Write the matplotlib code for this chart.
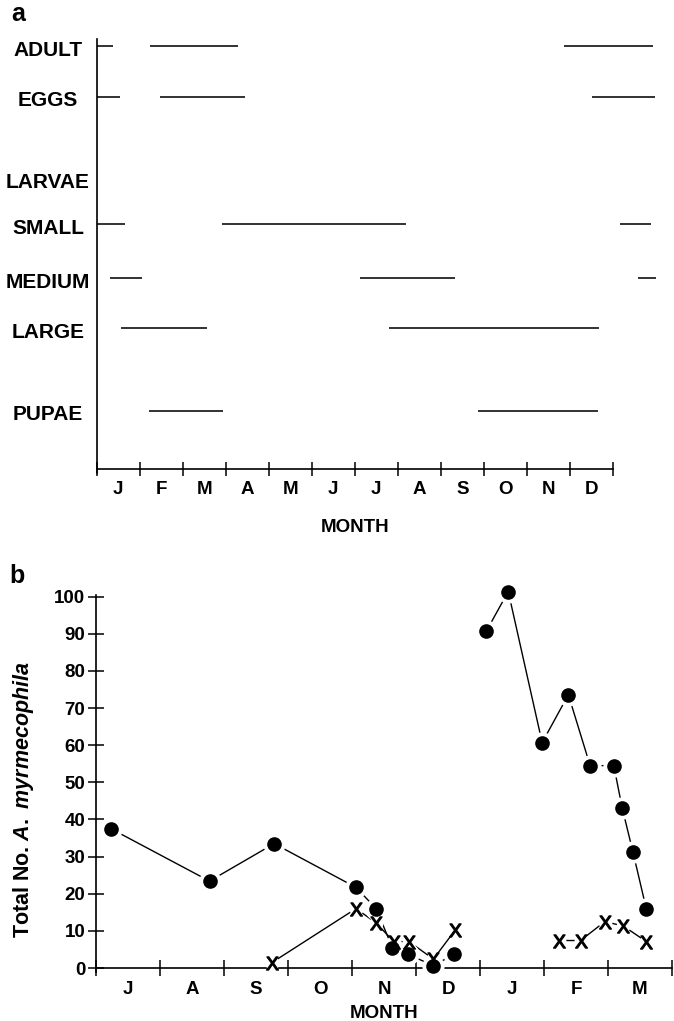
import matplotlib
matplotlib.use('Agg')
import matplotlib.pyplot as plt
import matplotlib.transforms as mtransforms

plt.rcParams['font.family'] = ['Liberation Sans', 'DejaVu Sans']
plt.rcParams['font.weight'] = 'bold'
plt.rcParams['mathtext.fontset'] = 'custom'
plt.rcParams['mathtext.it'] = 'Liberation Sans:italic'
plt.rcParams['mathtext.rm'] = 'Liberation Sans:bold'
plt.rcParams['mathtext.sf'] = 'Liberation Sans:normal'

# ---- panel a: life stages present, months counted from 1 Jan ----
stages = ['ADULT', 'EGGS', 'LARVAE', 'SMALL', 'MEDIUM', 'LARGE', 'PUPAE']
periods = {
    'ADULT': [(0.0, 0.37), (1.25, 3.28), (10.86, 12.93)],
    'EGGS': [(0.0, 0.55), (1.48, 3.44), (11.52, 12.98)],
    'LARVAE': [],
    'SMALL': [(0.0, 0.66), (2.92, 7.18), (12.15, 12.89)],
    'MEDIUM': [(0.30, 1.05), (6.13, 8.33), (12.58, 12.99)],
    'LARGE': [(0.57, 2.57), (6.79, 11.67)],
    'PUPAE': [(1.22, 2.93), (8.86, 11.65)],
}
months_a = ['J', 'F', 'M', 'A', 'M', 'J', 'J', 'A', 'S', 'O', 'N', 'D']

# ---- panel b: counts, Jul to Mar ----
months_b = ['J', 'A', 'S', 'O', 'N', 'D', 'J', 'F', 'M']
dots1_x = [0.23, 1.77, 2.78, 4.06, 4.375, 4.63, 4.875, 5.27, 5.59]
dots1_y = [37.5, 23.4, 33.5, 21.7, 16.0, 5.4, 3.7, 0.6, 3.7]
dots2_x = [6.10, 6.44, 6.97, 7.38, 7.72, 8.09, 8.22, 8.39, 8.60]
dots2_y = [90.8, 101.4, 60.7, 73.6, 54.5, 54.5, 43.2, 31.2, 15.8]
cross1_x = [2.74, 4.06, 4.37, 4.65, 4.89, 5.27, 5.61]
cross1_y = [1.4, 16.0, 12.2, 7.1, 7.1, 2.4, 10.2]
cross2_x = [7.23, 7.57, 7.95, 8.24, 8.60]
cross2_y = [7.4, 7.4, 12.5, 11.3, 7.1]

W, H = 674, 1021
fig = plt.figure(figsize=(W / 100, H / 100), dpi=100)

# layout (pixels)
row_y = [423, 372, 291, 245, 191, 141, 58]   # height above the month axis

axa = fig.add_axes([96.7 / W, 1 - 469 / H, 563.7 / W, 430 / H])
axa.set_xlim(0, 13.1)
axa.set_ylim(0, 430)
for name, y in zip(stages, row_y):
    for s, e in periods[name]:
        axa.hlines(y, s, e, color='#222222', lw=1.3)
for sp in ['top', 'right']:
    axa.spines[sp].set_visible(False)
axa.spines['bottom'].set_bounds(0, 12)
axa.spines['left'].set_bounds(-4, 430)
for sp in ['left', 'bottom']:
    axa.spines[sp].set_linewidth(1.2)
axa.set_yticks([])
axa.set_xticks(range(13))
axa.set_xticklabels([])
axa.tick_params(axis='x', which='major', direction='inout', length=10, width=1.1)
axa.set_xticks([m + 0.5 for m in range(12)], minor=True)
axa.set_xticklabels(months_a, minor=True, fontsize=13.5, fontweight='bold')
axa.tick_params(axis='x', which='minor', length=0, pad=9)
lbl = mtransforms.blended_transform_factory(fig.transFigure, axa.transData)
for name, y in zip(stages, row_y):
    axa.text(48 / W, y - 4, name, transform=lbl, ha='center', va='center',
             fontsize=15, fontweight='bold')
axa.text(6, -58, 'MONTH', ha='center', va='center', fontsize=13.5,
         fontweight='bold', clip_on=False)
fig.text(18 / W, 1 - 14 / H, 'a', fontsize=18, fontweight='bold', va='center', ha='center')

# panel b
axb = fig.add_axes([96.3 / W, 1 - 968 / H, 575.7 / W, 371.3 / H])
axb.set_xlim(0, 9)
axb.set_ylim(0, 100)
for sp in ['top', 'right']:
    axb.spines[sp].set_visible(False)
axb.spines['left'].set_bounds(-1, 100.5)
for sp in ['left', 'bottom']:
    axb.spines[sp].set_linewidth(1.2)

for xs, ys in [(dots1_x, dots1_y), (dots2_x, dots2_y)]:
    axb.plot(xs, ys, color='black', lw=1.0, clip_on=False, zorder=2)
for xs, ys in [(cross1_x, cross1_y), (cross2_x, cross2_y)]:
    axb.plot(xs, ys, color='black', lw=1.0, clip_on=False, zorder=2)
for xs, ys in [(dots1_x, dots1_y), (dots2_x, dots2_y)]:
    axb.plot(xs, ys, 'o', color='white', ms=15, clip_on=False, zorder=3)
for xs, ys in [(cross1_x, cross1_y), (cross2_x, cross2_y)]:
    axb.plot(xs, ys, 'o', color='white', ms=9, clip_on=False, zorder=3)
for xs, ys in [(dots1_x, dots1_y), (dots2_x, dots2_y)]:
    axb.plot(xs, ys, 'o', color='black', ms=9.5, clip_on=False, zorder=4)
for xs, ys in [(cross1_x, cross1_y), (cross2_x, cross2_y)]:
    axb.plot(xs, ys, marker=r'$\mathsf{X}$', ls='none', color='black', ms=9.5,
             mew=0.9, clip_on=False, zorder=4)

axb.set_yticks(range(0, 101, 10))
axb.set_yticklabels([str(v) for v in range(0, 101, 10)], fontsize=13.5, fontweight='bold')
axb.tick_params(axis='y', direction='inout', length=12, width=1.1, pad=2)
axb.set_xticks(range(10))
axb.set_xticklabels([])
axb.tick_params(axis='x', which='major', direction='inout', length=11, width=1.1)
axb.set_xticks([m + 0.5 for m in range(9)], minor=True)
axb.set_xticklabels(months_b, minor=True, fontsize=13.5, fontweight='bold')
axb.tick_params(axis='x', which='minor', length=0, pad=9)
axb.text(4.5, -12.2, 'MONTH', ha='center', va='center', fontsize=13.5,
         fontweight='bold', clip_on=False)
fig.text(24 / W, 1 - 800 / H, r'Total No. $\it{A.\ myrmecophila}$', rotation=90,
         ha='center', va='center', fontsize=15.5, fontweight='bold')
fig.text(17 / W, 1 - 576 / H, 'b', fontsize=18, fontweight='bold', va='center', ha='center')

fig.savefig('out.png', dpi=100)
